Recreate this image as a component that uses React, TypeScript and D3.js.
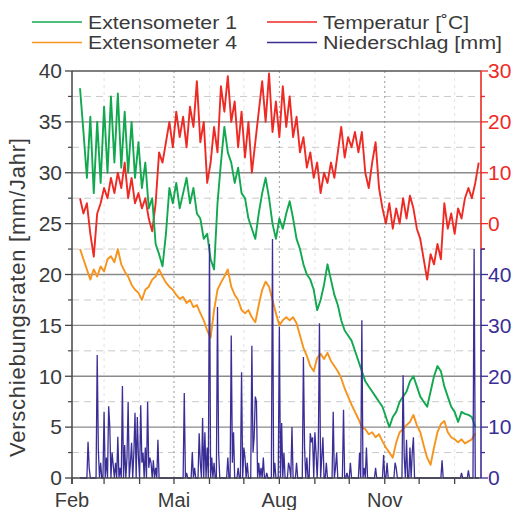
import React from "react";
import * as d3 from "d3";

// ---------- data ----------
const SERIES_START = new Date(2010, 1, 8); // first sample (Feb 8)
const SERIES_STEP_DAYS = 3;

// Extensometer 1 [mm/Jahr]
const ext1: number[] = [
  38.3, 34, 29.5, 35.5, 28, 35, 29, 36.5, 30, 37.5,
  31, 37.8, 30.5, 36, 30, 35, 29.5, 33, 28.5, 31,
  26.5, 27.5, 23, 22, 20.8, 24, 28.5, 27, 29, 26.5,
  28, 29.5, 27, 28.5, 26, 25.5, 23.5, 24, 21.5, 20.5,
  27, 31, 34.5, 32, 31, 29, 30.5, 28, 27.5, 25.5,
  24.5, 23.5, 26, 28, 29.5, 27.5, 25, 23.5, 25.5, 24.5,
  26, 27.2, 25.5, 23.5, 22.5, 21, 20, 19.5, 18.5, 16.5,
  17.5, 19, 21, 19.5, 18, 17, 15.5, 14.5, 14, 13.5,
  12.5, 11.5, 10.5, 9.5, 9, 8.5, 8, 7.5, 7, 6,
  5, 6, 6.5, 7.5, 8, 8.5, 9.5, 10, 9, 8,
  7.5, 7, 8.5, 10, 11, 10.5, 9, 8, 7, 6.5,
  5.5, 6.5, 6.3, 6.2, 6, 5,
];

// Extensometer 4 [mm/Jahr]
const ext4: number[] = [
  22.5, 21.5, 20.5, 19.5, 20.5, 19.8, 20.8, 20.3, 21.5, 21.8,
  21.2, 22.5, 21, 20.3, 19.8, 19, 18.5, 18.2, 17.5, 18.5,
  18.8, 19.5, 19.8, 20.5, 19.8, 19.2, 18.8, 18.5, 18, 17.6,
  17.8, 17.2, 17.5, 16.8, 17, 16.2, 15.5, 14.5, 13.8, 16.5,
  18.5, 19.2, 19.8, 20.5, 18.8, 18, 17.5, 16.5, 16.2, 16.5,
  15.8, 15.3, 17, 18.5, 19.3, 18.8, 17.5, 16.2, 15, 15.5,
  15.8, 15.5, 15.8, 15.2, 14, 12.8, 12, 11, 10.5, 11.8,
  12.2, 11.7, 12.3, 11.5, 11, 10.5, 9.8, 8.8, 8, 7.2,
  6.5, 5.8, 5, 4.8, 4.3, 4.5, 4, 4.3, 3.6, 3,
  2.5, 2, 3.5, 4.5, 4.8, 5.2, 5.5, 6.2, 5.2, 4.5,
  3.2, 2, 1.3, 3, 4.5, 5.3, 5.6, 4.5, 4, 3.8,
  3.5, 3.8, 3.4, 3.6, 3.8, 4.4,
];

// Temperatur [°C]
const temperature: number[] = [
  5, 2, 4, -2, -6.5, 2, 4, 7, 5, 9,
  6, 10, 7, 12, 5, 9, 4, 6, 3, 5,
  1, -1.5, 4, 14, 12, 16, 20, 15, 22, 17,
  21, 15, 23, 19, 28, 16, 20, 8, 12, 19,
  14, 27, 22, 29, 20, 24, 15, 22, 13, 20,
  10, 16, 22, 28, 20, 29.5, 18, 24, 17, 27,
  19, 25, 17, 21, 14, 17, 11, 14, 9, 12,
  6, 10, 8, 12, 9, 14, 19, 13, 17, 15,
  18, 14, 18, 10, 7, 12, 16, 7, 3, 0,
  4, -1, 3, 0, 5, 1, 5.5, 3, -1, -3,
  -7, -11, -6, -8, -4, -7, 4, -1, 2, -2,
  3, 1, 5, 7, 5, 8, 12,
];

// Niederschlag [mm]: day offset from 1 Feb, amount
const precipDay: number[] = [
  14, 15, 22, 23, 25, 28, 30, 32, 33, 35, 36, 38, 40, 42, 44, 46, 48, 49, 51, 52,
  54, 55, 57, 58, 60, 61, 62, 64, 66, 67, 68, 69, 71, 73, 75, 98, 100, 105, 107, 111,
  112, 114, 116, 118, 120, 122, 124, 127, 128, 136, 139, 140, 141, 145, 148, 150, 151, 153, 157, 158,
  159, 160, 161, 163, 165, 167, 170, 175, 177, 181, 183, 185, 189, 190, 192, 196, 202, 203, 205, 208,
  209, 210, 212, 213, 215, 216, 218, 219, 222, 228, 230, 231, 237, 240, 243, 251, 253, 255, 257, 265,
  272, 275, 282, 283, 289, 290, 292, 295, 297, 298, 323, 340, 346, 351,
];
const precipMm: number[] = [
  7.1, 2, 24.2, 5.5, 3, 13, 4, 14.1, 10, 5, 2.5, 3, 8.1, 2, 18.1, 6.5, 4, 15, 3, 6.9,
  5, 12.8, 12, 4, 14.3, 3, 5, 6, 15, 2, 4, 3, 3.5, 2, 7.5, 16.7, 1, 5.1, 2, 8.8,
  3, 11.8, 9, 6, 46, 4, 3, 33.6, 5, 4, 28, 3, 9, 2, 20.8, 6, 4, 3, 26, 5,
  8, 16, 15, 3, 2, 4, 1, 47, 3, 29.7, 10.8, 5, 3, 2, 10, 3, 23.8, 6, 4, 8.8,
  7, 8, 9, 5, 6, 30.4, 4, 8, 3, 13, 2, 5, 13.4, 1, 3, 5, 31, 2, 6, 2,
  4.5, 3, 3, 2, 20.2, 4, 7.5, 6, 5, 8, 3.5, 1, 1.5, 45,
];

const yTicksLeft = [0, 5, 10, 15, 20, 25, 30, 35, 40];
const tempTicks = [0, 10, 20, 30];
const precipTicks = [0, 10, 20, 30, 40];
const monthLabels: Record<number, string> = { 1: "Feb", 4: "Mai", 7: "Aug", 10: "Nov" };

const legendItems = [
  { label: "Extensometer 1", color: "#12a84f", col: 0, row: 0, len: 149 },
  { label: "Temperatur [˚C]", color: "#ee2a24", col: 1, row: 0, len: 146 },
  { label: "Extensometer 4", color: "#f6941e", col: 0, row: 1, len: 149 },
  { label: "Niederschlag [mm]", color: "#3a2e96", col: 1, row: 1, len: 179 },
];

// ---------- colours ----------
const GREEN = "#12a84f";
const ORANGE = "#f6941e";
const RED = "#ee2a24";
const BLUE = "#3a2e96";
const TEXT = "#3a3a3a";
const FONT = "Liberation Sans, Arial, sans-serif";

export default function App() {
  const W = 517, H = 510;
  const L = 72, R = 481, T = 71, B = 478;

  const x = d3.scaleTime().domain([new Date(2010, 1, 1), new Date(2011, 0, 24)]).range([L, R]);
  const yL = d3.scaleLinear().domain([0, 40]).range([B, T]);
  const yT = d3.scaleLinear().domain([-50, 30]).range([B, T]);
  const yP = d3.scaleLinear().domain([0, 80]).range([B, T]);

  const dateAt = (i: number) => d3.timeDay.offset(SERIES_START, i * SERIES_STEP_DAYS);

  const lineL = d3.line<number>().x((_, i) => x(dateAt(i))).y((v) => yL(v));
  const lineT = d3.line<number>().x((_, i) => x(dateAt(i))).y((v) => yT(v));

  // daily precipitation series
  const feb1 = new Date(2010, 1, 1);
  const pMap = new Map<number, number>();
  precipDay.forEach((d, i) => pMap.set(d, precipMm[i]));
  const days = d3.range(7, 356);
  const precipLine = d3
    .line<number>()
    .x((d) => x(d3.timeDay.offset(feb1, d)))
    .y((d) => yP(pMap.get(d) ?? 0));

  const months = d3.timeMonth.range(new Date(2010, 1, 1), new Date(2011, 0, 25));

  const minorLeft = d3.range(2.5, 40, 5);
  const tempAll = d3.range(-5, 31, 5);
  const precipAll = d3.range(0, 46, 5);
  const redBottom = yT(-5);

  return (
    <svg
      width={W}
      height={H}
      style={{ position: "absolute", left: 0, top: 0, background: "#fff" }}
      fontFamily={FONT}
    >
      {/* dashed minor gridlines */}
      {minorLeft.map((v) => (
        <line key={"dg" + v} x1={L} x2={R} y1={yL(v)} y2={yL(v)} stroke="#c9c9c9" strokeWidth={1} strokeDasharray="7,5" />
      ))}
      {/* faint vertical month lines */}
      {months.map((m, i) =>
        monthLabels[m.getMonth()] || i === 0 ? null : (
          <line key={"vm" + i} x1={x(m)} x2={x(m)} y1={T} y2={B} stroke="#e2e2e2" strokeWidth={1} strokeDasharray="3,4" />
        )
      )}
      {/* dotted major month lines */}
      {months.map((m, i) =>
        monthLabels[m.getMonth()] && i !== 0 ? (
          <line key={"vM" + i} x1={x(m)} x2={x(m)} y1={T} y2={B} stroke="#9a9a9a" strokeWidth={1} strokeDasharray="2,3" />
        ) : null
      )}
      {/* solid gridlines */}
      {yTicksLeft.filter((v) => v > 0 && v < 40).map((v) => (
        <line key={"g" + v} x1={L} x2={R} y1={yL(v)} y2={yL(v)} stroke="#8a8a8a" strokeWidth={1.3} />
      ))}
      <line x1={L} x2={R} y1={yL(40)} y2={yL(40)} stroke="#555" strokeWidth={1.5} />

      {/* series */}
      <path d={lineT(temperature) ?? ""} fill="none" stroke={RED} strokeWidth={1.9} strokeLinejoin="round" />
      <path d={lineL(ext4) ?? ""} fill="none" stroke={ORANGE} strokeWidth={1.9} strokeLinejoin="round" />
      <path d={lineL(ext1) ?? ""} fill="none" stroke={GREEN} strokeWidth={1.9} strokeLinejoin="round" />
      <path d={precipLine(days) ?? ""} fill="none" stroke={BLUE} strokeWidth={1.3} strokeLinejoin="miter" />

      {/* left axis */}
      <line x1={L} x2={L} y1={T} y2={B + 6} stroke="#444" strokeWidth={1.5} />
      {yTicksLeft.map((v) => (
        <g key={"lt" + v}>
          <line x1={L - 7} x2={L} y1={yL(v)} y2={yL(v)} stroke="#444" strokeWidth={1.3} />
          <text x={62} y={yL(v)} dy="0.35em" textAnchor="end" fontSize={21} fill={TEXT}>
            {v}
          </text>
        </g>
      ))}
      {minorLeft.map((v) => (
        <line key={"lm" + v} x1={L - 4} x2={L} y1={yL(v)} y2={yL(v)} stroke="#444" strokeWidth={1.2} />
      ))}
      <text
        transform={`translate(25,${(457 + 138) / 2}) rotate(-90)`}
        textAnchor="middle"
        fontSize={22}
        fill={TEXT}
        textLength={319}
        lengthAdjust="spacing"
      >
        Verschiebungsraten [mm/Jahr]
      </text>

      {/* bottom axis */}
      <line x1={L} x2={R} y1={B} y2={B} stroke="#444" strokeWidth={1.5} />
      {months.map((m, i) => (
        <g key={"xt" + i}>
          <line x1={x(m)} x2={x(m)} y1={B} y2={B + 6} stroke="#444" strokeWidth={1.3} />
          {monthLabels[m.getMonth()] ? (
            <text x={x(m)} y={507} textAnchor="middle" fontSize={20} fill={TEXT}>
              {monthLabels[m.getMonth()]}
            </text>
          ) : null}
        </g>
      ))}

      {/* right axis: temperature (red) */}
      <line x1={R} x2={R} y1={T} y2={redBottom} stroke={RED} strokeWidth={1.6} />
      {tempAll.map((v) => (
        <line key={"rt" + v} x1={R} x2={R + (v % 10 === 0 ? 7 : 4)} y1={yT(v)} y2={yT(v)} stroke={RED} strokeWidth={1.3} />
      ))}
      {tempTicks.map((v) => (
        <text key={"rl" + v} x={488} y={yT(v)} dy="0.35em" fontSize={21} fill={RED}>
          {v}
        </text>
      ))}
      {/* right axis: precipitation (blue) */}
      <line x1={R} x2={R} y1={redBottom} y2={B} stroke={BLUE} strokeWidth={1.6} />
      {precipAll.map((v) => (
        <line key={"pt" + v} x1={R} x2={R + (v % 10 === 0 ? 7 : 4)} y1={yP(v)} y2={yP(v)} stroke={BLUE} strokeWidth={1.3} />
      ))}
      {precipTicks.map((v) => (
        <text key={"pl" + v} x={488} y={yP(v)} dy="0.35em" fontSize={21} fill={BLUE}>
          {v}
        </text>
      ))}

      {/* legend */}
      {legendItems.map((it) => {
        const lx = it.col === 0 ? 32 : 267;
        const ly = it.row === 0 ? 22 : 42.5;
        return (
          <g key={it.label}>
            <line x1={lx} x2={lx + 50} y1={ly} y2={ly} stroke={it.color} strokeWidth={1.6} />
            <text x={lx + 56} y={ly + 6.5} fontSize={18} fill={TEXT} textLength={it.len} lengthAdjust="spacingAndGlyphs">
              {it.label}
            </text>
          </g>
        );
      })}
    </svg>
  );
}
